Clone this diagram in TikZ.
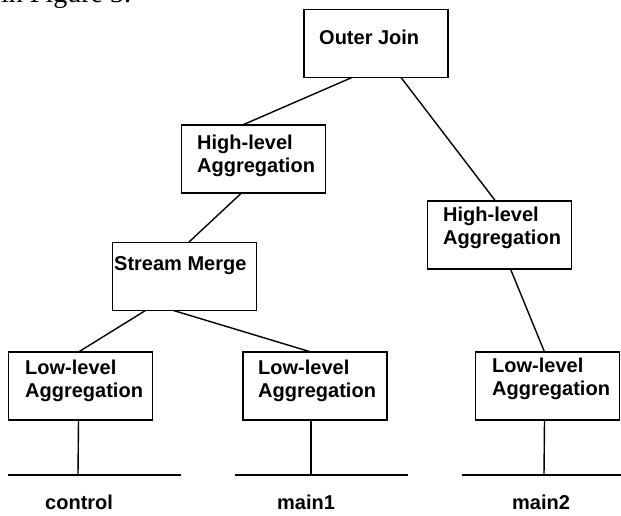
\documentclass[tikz,border=0pt]{standalone}
\usepackage{fontspec}
\setmainfont{Liberation Sans}
\newfontfamily\serifbody{Liberation Serif}
\begin{document}
\begin{tikzpicture}[x=1pt,y=1pt,
  box/.style={draw,line width=1.4pt,rectangle,inner sep=0pt,outer sep=0pt,minimum width=144pt,minimum height=68pt},
  lbl/.style={anchor=base west,inner sep=0pt,font=\fontsize{20}{23}\selectfont\bfseries,align=left},
  conn/.style={line width=1.4pt}]
\useasboundingbox (0,0) rectangle (621,516);
% clipped text at the top
\node[anchor=base west,inner sep=0pt,font=\serifbody\fontsize{28}{30}\selectfont] (frag) at (1,513.5) {in Figure 3.};
% boxes
\node[box] (oj)  at (376,472.5) {};
\node[box] (hll) at (253.5,357) {};
\node[box] (sm)  at (184.5,239.5) {};
\node[box] (lll) at (80.5,130) {};
\node[box] (llm) at (315,130) {};
\node[box] (hlr) at (499.5,281) {};
\node[box] (llr) at (547.5,130) {};
% texts
\node[lbl] (toj) at (319,471) {Outer Join};
\node[lbl] (thll) at (197,343) {High-level\\Aggregation};
\node[lbl] (tsm) at (114,245) {Stream Merge};
\node[lbl] (tlll) at (25,118) {Low-level\\Aggregation};
\node[lbl] (tllm) at (258,118) {Low-level\\Aggregation};
\node[lbl] (thlr) at (443,271) {High-level\\Aggregation};
\node[lbl] (tllr) at (492,120) {Low-level\\Aggregation};
\node[lbl] (c1) at (45,6) {control};
\node[lbl] (c2) at (277,6) {main1};
\node[lbl] (c3) at (512,6) {main2};
% connectors
\draw[conn] ([xshift=48pt]oj.south west) -- ([xshift=61pt]hll.north west);
\draw[conn] ([xshift=97pt]oj.south west) -- ([xshift=68pt]hlr.north west);
\draw[conn] ([xshift=60pt]hll.south west) -- ([xshift=76pt]sm.north west);
\draw[conn] ([xshift=33pt]sm.south west) -- ([xshift=70pt]lll.north west);
\draw[conn] ([xshift=61pt]sm.south west) -- ([xshift=68pt]llm.north west);
\draw[conn] ([xshift=83pt]hlr.south west) -- ([xshift=69pt]llr.north west);
% buses
\coordinate (b1) at (78,41);
\coordinate (b2) at (311,41);
\coordinate (b3) at (544,41);
\coordinate (b1l) at (8,41);
\coordinate (b1r) at (181,41);
\coordinate (b2l) at (235,41);
\coordinate (b2r) at (408,41);
\coordinate (b3l) at (462,41);
\coordinate (b3r) at (621,41);
\draw[conn] ([xshift=70pt]lll.south west) -- (b1);
\draw[conn] ([xshift=68pt]llm.south west) -- (b2);
\draw[conn] ([xshift=69pt]llr.south west) -- (b3);
\draw[conn] (b1l) -- (b1r);
\draw[conn] (b2l) -- (b2r);
\draw[conn] (b3l) -- (b3r);
\end{tikzpicture}
\end{document}
